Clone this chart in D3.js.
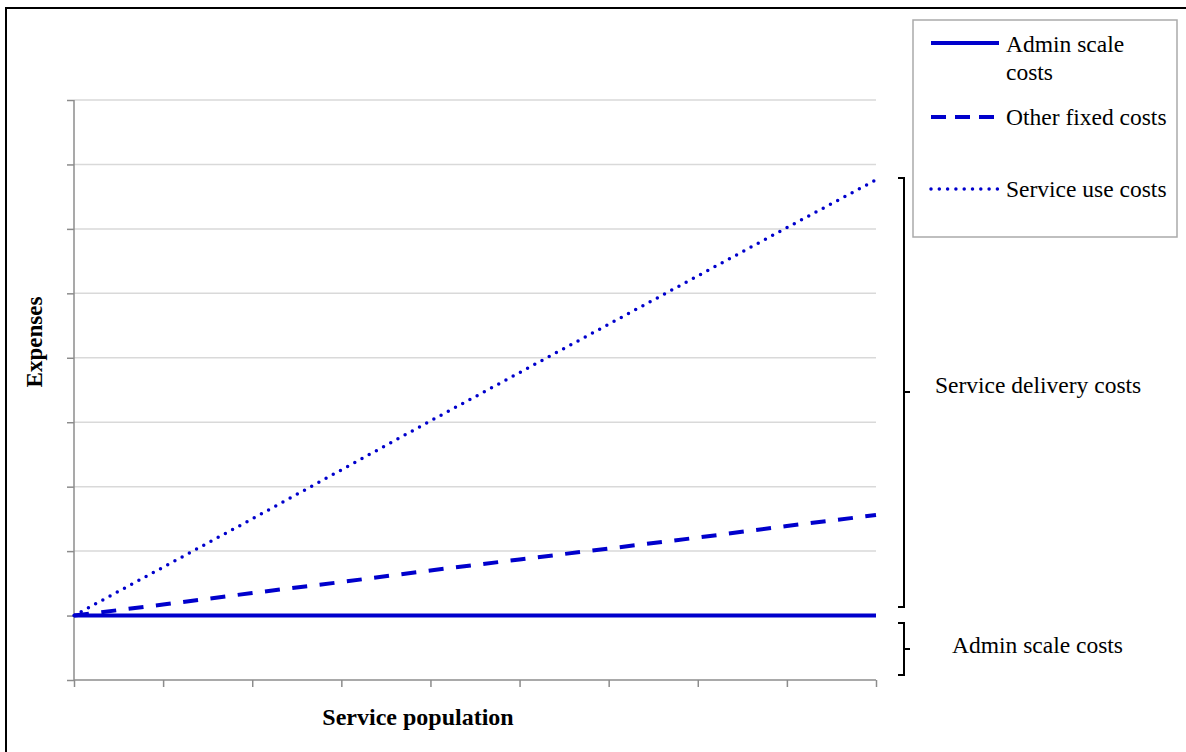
<!DOCTYPE html>
<html><head><meta charset="utf-8">
<script src="https://cdn.jsdelivr.net/npm/d3@7"></script>
<style>body{margin:0;background:#fff;} svg{display:block;}</style>
</head><body>
<script>
const categories = [0,1,2,3,4,5,6,7,8,9];
const adminScale = [1,1,1,1,1,1,1,1,1,1];
const otherFixed = [1,1.17,1.35,1.52,1.7,1.87,2.04,2.21,2.39,2.56];
const serviceUse = [1,1.75,2.5,3.26,4.02,4.77,5.52,6.27,7.02,7.76];
const yTicks = [0,1,2,3,4,5,6,7,8,9];
const seriesNames = ["Admin scale costs","Other fixed costs","Service use costs"];

const W=1186,H=752;
const svg=d3.select("body").append("svg").attr("width",W).attr("height",H);
const font="Liberation Serif, Times New Roman, serif";
const blue="#0000cc";
const fs=23.5;

// outer border (top/left visible)
svg.append("rect").attr("x",6).attr("y",8).attr("width",W+10).attr("height",H+10)
  .attr("fill","none").attr("stroke","#000").attr("stroke-width",2);

const x=d3.scaleLinear().domain([0,9]).range([74,876]);
const y=d3.scaleLinear().domain([0,9]).range([680,100]);

// gridlines
svg.append("g").selectAll("line").data(yTicks.slice(1)).join("line")
  .attr("x1",74).attr("x2",876).attr("y1",d=>y(d)).attr("y2",d=>y(d))
  .attr("stroke","#d9d9d9").attr("stroke-width",1.5);

// axes
const yAxis=svg.append("g").attr("transform","translate(74,0)")
  .call(d3.axisLeft(y).tickValues(yTicks).tickSize(7).tickFormat(""));
const xAxis=svg.append("g").attr("transform","translate(0,680)")
  .call(d3.axisBottom(x).tickValues(categories).tickSize(7).tickFormat(""));
[yAxis,xAxis].forEach(a=>{
  a.selectAll("path,line").attr("stroke","#8c8c8c").attr("stroke-width",1.5);
});
yAxis.select(".domain").attr("d","M0,680V100");
xAxis.select(".domain").attr("d","M74,0H876");

const line=d3.line().x((d,i)=>x(categories[i])).y(d=>y(d));
svg.append("path").datum(otherFixed).attr("d",line).attr("fill","none")
  .attr("stroke",blue).attr("stroke-width",4).attr("stroke-dasharray","15,12.5");
svg.append("path").datum(serviceUse).attr("d",line).attr("fill","none")
  .attr("stroke",blue).attr("stroke-width",3.5).attr("stroke-linecap","round").attr("stroke-dasharray","0,8.2");
svg.append("path").datum(adminScale).attr("d",line).attr("fill","none")
  .attr("stroke",blue).attr("stroke-width",4);

// axis titles
svg.append("text").attr("x",418).attr("y",725).attr("text-anchor","middle")
  .attr("font-family",font).attr("font-weight","bold").attr("font-size",24).text("Service population");
svg.append("text").attr("transform","translate(42,342) rotate(-90)").attr("text-anchor","middle")
  .attr("font-family",font).attr("font-weight","bold").attr("font-size",23).text("Expenses");

// legend
svg.append("rect").attr("x",913).attr("y",20).attr("width",264).attr("height",217)
  .attr("fill","#fff").attr("stroke","#aaaaaa").attr("stroke-width",1.5);
const lg=svg.append("g");
const legRows=[
  {ly:43, dash:null, w:4, cap:"butt", lines:["Admin scale","costs"], ty:52},
  {ly:117, dash:"15,9", w:4, cap:"butt", lines:["Other fixed costs"], ty:125},
  {ly:189, dash:"0,8.3", w:3.5, cap:"round", lines:["Service use costs"], ty:197}
];
legRows.forEach((r,k)=>{
  lg.append("line").attr("x1",931).attr("x2",999).attr("y1",r.ly).attr("y2",r.ly)
    .attr("stroke",blue).attr("stroke-width",r.w).attr("stroke-linecap",r.cap)
    .attr("stroke-dasharray",r.dash);
  const t=lg.append("text").attr("x",1006).attr("y",r.ty).attr("font-family",font).attr("font-size",fs).attr("fill","#000");
  r.lines.forEach((s,j)=>t.append("tspan").attr("x",1006).attr("dy",j?28:0).text(s));
});
lg.attr("data-series",seriesNames.join("|"));

// brackets
function bracket(top,bot,mid){
  svg.append("path").attr("d",`M898,${top}H904V${bot}H898M904,${mid}H910`)
    .attr("fill","none").attr("stroke","#000").attr("stroke-width",2);
}
bracket(178,607,392);
bracket(623,675,649);
svg.append("text").attr("x",935).attr("y",393).attr("font-family",font).attr("font-size",fs).text("Service delivery costs");
svg.append("text").attr("x",952).attr("y",653).attr("font-family",font).attr("font-size",fs).text("Admin scale costs");
</script>
</body></html>
